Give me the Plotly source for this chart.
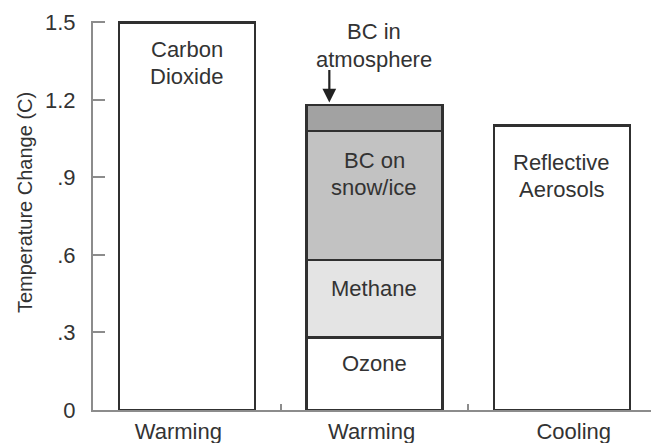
import plotly.graph_objects as go

# Category positions along the x axis and their labels
positions = [0, 1, 2]
effect_labels = ["Warming", "Warming", "Cooling"]
label_shift = [-0.045, -0.015, 0.063]  # small horizontal nudges of the labels

# Single-component bars (temperature change, C)
co2_value = 1.5
aerosol_value = 1.1

# Stacked components of the middle bar (bottom to top)
stack_names = ["Ozone", "Methane", "BC on snow/ice", "BC in atmosphere"]
stack_values = [0.28, 0.30, 0.50, 0.10]
stack_colors = ["#ffffff", "#e4e4e4", "#c2c2c2", "#a2a2a2"]

# Y axis ticks
y_ticks = [0, 0.3, 0.6, 0.9, 1.2, 1.5]
y_ticktext = ["0", ".3", ".6", ".9", "1.2", "1.5"]
y_title = "Temperature Change (C)"

TEXT = "#333333"
EDGE = "#303030"
AXIS = "#8c8c8c"
FONT = "Liberation Sans, Arial, sans-serif"
FS = 22
BAR_W = 0.725
LINE_GAP = 0.106  # vertical spacing between two lines of a label, in data units

fig = go.Figure()

fig.add_trace(go.Bar(
    x=[positions[0]], y=[co2_value], width=BAR_W,
    marker=dict(color="#ffffff", line=dict(color=EDGE, width=2.5)),
    showlegend=False, hoverinfo="skip",
))
for name, val, col in zip(stack_names, stack_values, stack_colors):
    fig.add_trace(go.Bar(
        x=[positions[1]], y=[val], width=BAR_W, name=name,
        marker=dict(color=col, line=dict(color=EDGE, width=2.5)),
        showlegend=False, hoverinfo="skip",
    ))
fig.add_trace(go.Bar(
    x=[positions[2]], y=[aerosol_value], width=BAR_W,
    marker=dict(color="#ffffff", line=dict(color=EDGE, width=2.5)),
    showlegend=False, hoverinfo="skip",
))

# Invisible trace on the overlaid axis that carries the category labels
fig.add_trace(go.Scatter(
    x=positions, y=[0, 0, 0], xaxis="x2", mode="markers",
    marker=dict(opacity=0), showlegend=False, hoverinfo="skip",
))

tf = dict(family=FONT, size=FS, color=TEXT)


def label(x, y_center, lines):
    """Place a stack of text lines centred on (x, y_center)."""
    n = len(lines)
    for i, line in enumerate(lines):
        y = y_center + (n - 1) / 2 * LINE_GAP - i * LINE_GAP
        fig.add_annotation(x=x, y=y, text=line, showarrow=False, font=tf)


label(positions[0], 1.342, ["Carbon", "Dioxide"])
label(positions[1], 0.181, ["Ozone"])
label(positions[1], 0.914, ["BC on", "snow/ice"])
label(positions[1], 0.470, ["Methane"])
label(positions[2], 0.906, ["Reflective", "Aerosols"])
label(positions[1], 1.41, ["BC in", "atmosphere"])

# Arrow pointing at the thin top segment
top = sum(stack_values)
fig.add_annotation(x=0.76, y=top + 0.01, text="", showarrow=True,
                   ax=0, ay=-34, arrowhead=2, arrowsize=1.25, arrowwidth=2.2,
                   arrowcolor="#222222")

# Rotated y axis title
fig.add_annotation(xref="paper", yref="paper", x=0, y=0.532, xshift=-68,
                   xanchor="center", yanchor="middle",
                   text=y_title, textangle=-90, showarrow=False,
                   font=dict(family=FONT, size=20, color=TEXT))

fig.update_layout(
    barmode="stack",
    width=651, height=443,
    margin=dict(l=93, r=0, t=21, b=33),
    paper_bgcolor="white", plot_bgcolor="white",
    font=dict(family=FONT, size=FS, color=TEXT),
    xaxis=dict(
        range=[-0.5, 2.475], showgrid=False, zeroline=False,
        showline=True, linecolor=AXIS, linewidth=2,
        tickmode="array", tickvals=[0.5, 1.5], ticktext=["", ""],
        ticks="inside", ticklen=6, tickwidth=2, tickcolor=AXIS,
    ),
    xaxis2=dict(
        overlaying="x", matches="x", side="bottom", showgrid=False,
        zeroline=False, showline=False, ticks="",
        tickmode="array",
        tickvals=[p + s for p, s in zip(positions, label_shift)],
        ticktext=effect_labels,
        tickfont=tf, ticklabelstandoff=6,
    ),
    yaxis=dict(
        range=[0, 1.505], showgrid=False, zeroline=False,
        showline=True, linecolor=AXIS, linewidth=2,
        tickmode="array", tickvals=y_ticks, ticktext=y_ticktext,
        ticks="inside", ticklen=12, tickwidth=2, tickcolor=AXIS,
        tickfont=tf, ticklabelstandoff=11,
    ),
)

fig.write_html("out.html")
